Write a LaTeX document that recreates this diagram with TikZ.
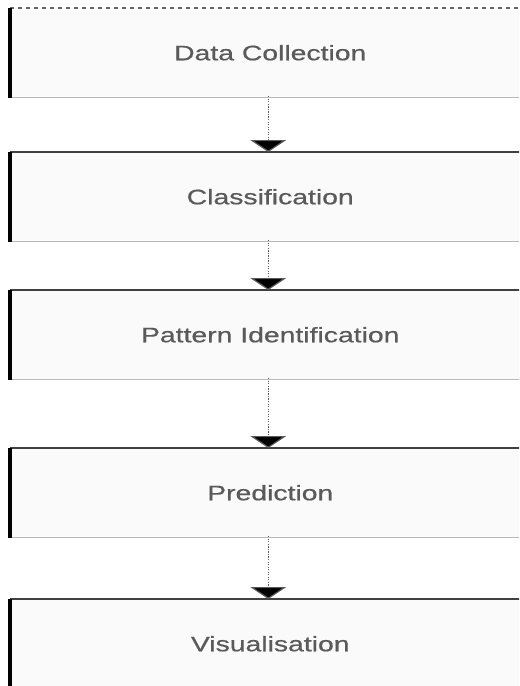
\documentclass[tikz,border=0pt]{standalone}
\usepackage{fontspec}
\newfontfamily\boxfont[FakeStretch=1.35,FakeBold=0.6]{Liberation Sans}
\usepackage{tikz}
\usetikzlibrary{arrows.meta}
\definecolor{boxfill}{RGB}{250,250,250}
\definecolor{labelgray}{RGB}{90,90,90}
\definecolor{rulegray}{RGB}{185,185,185}

\tikzset{
  stage/.style={fill=boxfill, anchor=north west, inner sep=0pt,
    minimum width=390pt, minimum height=66.75pt, text=labelgray,
    font=\boxfont\fontsize{15.75}{18}\selectfont},
  leftbar/.style={line width=3pt, black},
  toprule/.style={line width=1.1pt, black!75},
  bottomrule/.style={line width=0.8pt, rulegray},
  flow/.style={densely dotted, line width=0.9pt, black!65,
    -{Triangle[width=27pt,length=9pt,fill=black]}}
}

\begin{document}
\begin{tikzpicture}[x=0.75pt,y=0.75pt,yscale=-1,xscale=1]
\useasboundingbox (0,0) rectangle (519,686);
\clip (0,0) rectangle (519,686);
\fill[white] (0,0) rectangle (519,686);

%Shape: Rectangle [Data Collection]
\node[stage] (collect) at (10,8) {Data Collection};
%Shape: Rectangle [Classification]
\node[stage] (classify) at (10,152) {Classification};
%Shape: Rectangle [Pattern Identification]
\node[stage] (pattern) at (10,290) {Pattern Identification};
%Shape: Rectangle [Prediction]
\node[stage] (predict) at (10,448) {Prediction};
%Shape: Rectangle [Visualisation]
\node[stage] (visual) at (10,599) {Visualisation};

%Borders
\draw[bottomrule, black!60, dashed] (collect.north west) -- (collect.north east);
\foreach \n in {classify,pattern,predict,visual}
  \draw[toprule] (\n.north west) -- (\n.north east);
\foreach \n in {collect,classify,pattern,predict,visual}
  \draw[bottomrule] (\n.south west) -- (\n.south east);
\foreach \n in {collect,classify,pattern,predict,visual}
  \draw[leftbar] (\n.north west) -- (\n.south west);

%Straight Lines
\draw[flow] ([xshift=-1.5pt,yshift=-1pt]collect.south) -- ([xshift=-1.5pt]classify.north);
\draw[flow] ([xshift=-1.5pt,yshift=-1pt]classify.south) -- ([xshift=-1.5pt]pattern.north);
\draw[flow] ([xshift=-1.5pt,yshift=-1pt]pattern.south) -- ([xshift=-1.5pt]predict.north);
\draw[flow] ([xshift=-1.5pt,yshift=-1pt]predict.south) -- ([xshift=-1.5pt]visual.north);

\end{tikzpicture}
\end{document}
